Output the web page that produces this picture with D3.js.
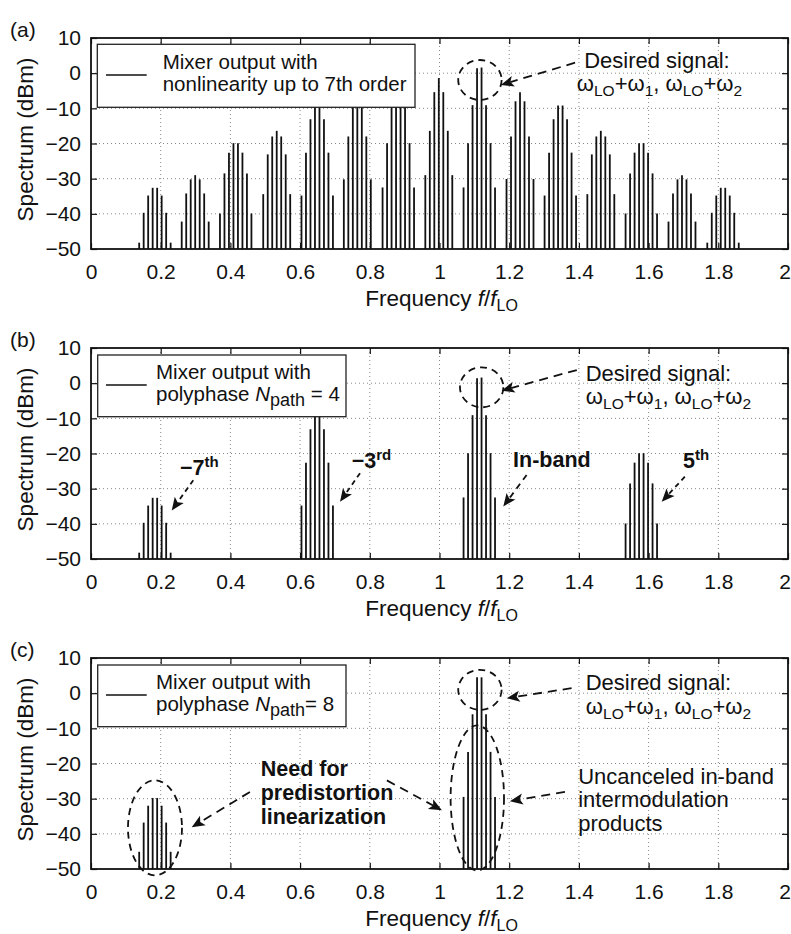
<!DOCTYPE html>
<html><head><meta charset="utf-8">
<script src="https://cdn.jsdelivr.net/npm/d3@7"></script>
<style>body{margin:0;background:#fff}</style>
</head><body>
<svg id="chart" width="791" height="934"></svg>
<script>
// ---------------- data ----------------
const xTicks = [0, 0.2, 0.4, 0.6, 0.8, 1, 1.2, 1.4, 1.6, 1.8, 2];
const xTickLabels = ["0", "0.2", "0.4", "0.6", "0.8", "1", "1.2", "1.4", "1.6", "1.8", "2"];
const yTicks = [10, 0, -10, -20, -30, -40, -50];
const yTickLabels = ["10", "0", "\u221210", "\u221220", "\u221230", "\u221240", "\u221250"];
const toneSpacing = 0.0129; // spacing of the tones inside a cluster (f/fLO)
const clusterCenters = [0.1834, 0.2990, 0.4152, 0.5329, 0.6491, 0.7642, 0.8818, 0.998,
                        1.1142, 1.231, 1.3467, 1.4629, 1.5791, 1.6958, 1.8135];
// panel (a): all 15 clusters (dBm)
const levelsA = [
  [-48.2, -39.7, -34.8, -32.6, -32.6, -34.8, -39.7, -48.2],
  [-42.2, -34.2, -30.2, -29.0, -30.2, -34.2, -42.2],
  [-39.9, -28.5, -22.6, -19.9, -19.9, -22.6, -28.5, -39.9],
  [-34.4, -23.1, -18.0, -16.4, -18.0, -23.1, -34.4],
  [-34.8, -22.6, -13.1, -9.2, -9.2, -13.1, -22.6, -34.8],
  [-30.2, -18.0, -8.0, -5.4, -8.0, -18.0, -30.2],
  [-32.5, -19.9, -9.1, 1.4, 1.4, -9.1, -19.9, -32.5],
  [-29.0, -16.4, -5.4, -1.4, -5.4, -16.4, -29.0],
  [-32.5, -19.9, -9.1, 1.4, 1.6, -9.1, -19.9, -32.5],
  [-30.1, -18.0, -8.0, -5.4, -8.0, -18.0, -30.1],
  [-34.8, -22.6, -13.1, -9.2, -9.2, -13.1, -22.6, -34.8],
  [-34.4, -23.1, -18.0, -16.4, -18.0, -23.1, -34.4],
  [-39.9, -28.5, -22.6, -19.9, -19.9, -22.6, -28.5, -39.9],
  [-42.2, -34.2, -30.2, -29.0, -30.2, -34.2, -42.2],
  [-48.2, -39.7, -34.8, -32.6, -32.6, -34.8, -39.7, -48.2]
];
// panel (b): N_path = 4, clusters -7th, -3rd, in-band, 5th
const clustersB = [0, 4, 8, 12];
const levelsB = [
  [-48.2, -39.7, -34.8, -32.6, -32.6, -34.8, -39.7, -48.2],
  [-34.8, -22.6, -13.1, -9.2, -9.2, -13.1, -22.6, -34.8],
  [-32.5, -19.9, -9.1, 1.4, 1.6, -9.1, -19.9, -32.5],
  [-39.9, -28.5, -22.6, -19.9, -19.9, -22.6, -28.5, -39.9]
];
// panel (c): N_path = 8, clusters -7th and in-band
const clustersC = [0, 8];
const levelsC = [
  [-45.1, -36.8, -32.0, -29.8, -29.8, -32.0, -36.8, -45.1],
  [-29.5, -16.7, -6.0, 4.5, 4.5, -6.0, -16.7, -29.5]
];

// ---------------- layout ----------------
const FONT = "Arial, 'Liberation Sans', Helvetica, sans-serif";
const FS = 20.5;      // legend text
const FS_ANN = 22;    // annotation text
const FS_TICK = 21;
const svg = d3.select("#chart").attr("font-family", FONT);
const plotLeft = 91, plotRight = 788, panelH = 211;
const panelTops = [38, 348, 658];
const x = d3.scaleLinear().domain([0, 2]).range([plotLeft, plotRight]);
const INK = "#111";

function arrow(g, x1, y1, x2, y2, dash) {
  const dx = x2 - x1, dy = y2 - y1, L = Math.hypot(dx, dy), ux = dx / L, uy = dy / L;
  const hl = 13, hw = 5.5, notch = 3;
  const bx = x2 - ux * hl, by = y2 - uy * hl;
  g.append("line").attr("x1", x1).attr("y1", y1).attr("x2", bx + ux * 3).attr("y2", by + uy * 3)
    .attr("stroke", INK).attr("stroke-width", 1.8).attr("stroke-dasharray", dash);
  const px = -uy, py = ux;
  g.append("path")
    .attr("d", `M${x2},${y2}L${bx + px * hw},${by + py * hw}L${bx + ux * notch},${by + uy * notch}L${bx - px * hw},${by - py * hw}Z`)
    .attr("fill", INK);
}
function ellipse(g, cx, cy, rx, ry) {
  g.append("ellipse").attr("cx", cx).attr("cy", cy).attr("rx", rx).attr("ry", ry)
    .attr("fill", "none").attr("stroke", INK).attr("stroke-width", 1.8).attr("stroke-dasharray", "7,5");
}
function omegaText(g, tx, ty) {
  const t = g.append("text").attr("x", tx).attr("y", ty).attr("font-size", FS_ANN).attr("fill", INK);
  const parts = [["\u03c9", 0, FS_ANN], ["LO", 5, 15.5], ["+\u03c9", -5, FS_ANN], ["1", 5, 15.5], [", \u03c9", -5, FS_ANN],
                 ["LO", 5, 15.5], ["+\u03c9", -5, FS_ANN], ["2", 5, 15.5]];
  parts.forEach(p => t.append("tspan").attr("dy", p[1]).attr("font-size", p[2]).text(p[0]));
}
function desired(g, y, ell, arr, txt) {
  ellipse(g, x(ell[0]), y(ell[1]), 21.7, 20);
  arrow(g, x(arr[0]), y(arr[1]), x(arr[2]), y(arr[3]), "9,6");
  g.append("text").attr("x", x(txt[0])).attr("y", y(txt[1])).attr("font-size", FS_ANN).attr("fill", INK).text("Desired signal:");
  omegaText(g, x(txt[2]), y(txt[3]));
}
function boldSup(g, tx, ty, main, sup) {
  const t = g.append("text").attr("x", tx).attr("y", ty).attr("font-size", 21.5).attr("font-weight", "bold").attr("fill", INK);
  t.append("tspan").text(main);
  if (sup) t.append("tspan").attr("dy", -8).attr("font-size", 15).text(sup);
}

function drawPanel(pi, idxs, levels) {
  const top = panelTops[pi], bottom = top + panelH;
  const y = d3.scaleLinear().domain([-50, 10]).range([bottom, top]);
  const g = svg.append("g");

  // grid
  g.append("g").selectAll("line").data(xTicks.slice(1, -1)).join("line")
    .attr("x1", d => x(d)).attr("x2", d => x(d)).attr("y1", top).attr("y2", bottom)
    .attr("stroke", "#888").attr("stroke-width", 1).attr("stroke-dasharray", "1,3");
  g.append("g").selectAll("line").data(yTicks.slice(1, -1)).join("line")
    .attr("y1", d => y(d)).attr("y2", d => y(d)).attr("x1", plotLeft).attr("x2", plotRight)
    .attr("stroke", "#888").attr("stroke-width", 1).attr("stroke-dasharray", "1,3");

  // bars
  const tones = [];
  idxs.forEach((ci, k) => {
    const lv = levels[k], n = lv.length;
    lv.forEach((v, i) => tones.push({ f: clusterCenters[ci] + (i - (n - 1) / 2) * toneSpacing, v }));
  });
  g.append("g").selectAll("line").data(tones).join("line")
    .attr("x1", d => x(d.f)).attr("x2", d => x(d.f)).attr("y1", y(-50)).attr("y2", d => y(d.v))
    .attr("stroke", INK).attr("stroke-width", 1.8);

  // axes
  const ax = d3.axisBottom(x).tickValues(xTicks).tickFormat((d, i) => xTickLabels[i])
    .tickSizeInner(-6).tickSizeOuter(0).tickPadding(15);
  const gx = g.append("g").attr("transform", `translate(0,${bottom})`).call(ax);
  const axT = d3.axisTop(x).tickValues(xTicks).tickFormat("").tickSizeInner(-6).tickSizeOuter(0);
  const gxt = g.append("g").attr("transform", `translate(0,${top})`).call(axT);
  const ay = d3.axisLeft(y).tickValues(yTicks).tickFormat((d, i) => yTickLabels[i])
    .tickSizeInner(-6).tickSizeOuter(0).tickPadding(10);
  const gy = g.append("g").attr("transform", `translate(${plotLeft},0)`).call(ay);
  const ayR = d3.axisRight(y).tickValues(yTicks).tickFormat("").tickSizeInner(-6).tickSizeOuter(0);
  const gyr = g.append("g").attr("transform", `translate(${plotRight},0)`).call(ayR);
  [gx, gxt, gy, gyr].forEach(a => {
    a.select(".domain").remove();
    a.selectAll(".tick line").attr("stroke", INK).attr("stroke-width", 1.2);
    a.selectAll("text").attr("font-size", FS_TICK).attr("font-family", FONT).attr("fill", INK);
  });
  gx.selectAll(".tick text").filter(d => d === 2).attr("dx", -3.5);

  // frame
  g.append("rect").attr("x", plotLeft).attr("y", top).attr("width", plotRight - plotLeft).attr("height", panelH)
    .attr("fill", "none").attr("stroke", INK).attr("stroke-width", 1.8);

  // labels
  g.append("text").attr("x", 10).attr("y", top - 1).attr("font-size", FS_TICK).attr("fill", INK).text(["(a)", "(b)", "(c)"][pi]);
  g.append("text").attr("transform", `translate(33,${top + panelH / 2 - 4}) rotate(-90)`)
    .attr("text-anchor", "middle").attr("font-size", 22.5).attr("fill", INK).text("Spectrum (dBm)");
  const xl = g.append("text").attr("x", (plotLeft + plotRight) / 2 + 2).attr("y", bottom + 57)
    .attr("text-anchor", "middle").attr("font-size", 22.5).attr("fill", INK);
  xl.append("tspan").text("Frequency ");
  xl.append("tspan").attr("font-style", "italic").text("f");
  xl.append("tspan").text("/");
  xl.append("tspan").attr("font-style", "italic").text("f");
  xl.append("tspan").attr("dy", 5).attr("font-size", 16).text("LO");

  // legend
  const wide = pi === 0;
  const lx = wide ? 97.3 : 97.7, lw = wide ? 317.7 : 248.3, ly = top + (wide ? 6.3 : 7), lh = wide ? 63 : 61.7;
  g.append("rect").attr("x", lx).attr("y", ly).attr("width", lw).attr("height", lh)
    .attr("fill", "#fff").attr("stroke", "#222").attr("stroke-width", 1.3);
  g.append("line").attr("x1", 106).attr("x2", 146.7).attr("y1", top + 37).attr("y2", top + 37)
    .attr("stroke", INK).attr("stroke-width", 1.5);
  const tx = wide ? 162.7 : 156;
  g.append("text").attr("x", tx).attr("y", top + 31.3).attr("font-size", FS).attr("fill", INK).text("Mixer output with");
  const l2 = g.append("text").attr("x", tx).attr("y", top + 53).attr("font-size", FS).attr("fill", INK);
  if (wide) l2.text("nonlinearity up to 7th order");
  else {
    l2.append("tspan").text("polyphase ");
    l2.append("tspan").attr("font-style", "italic").text("N");
    l2.append("tspan").attr("dy", 5).attr("font-size", 18).text("path");
    l2.append("tspan").attr("dy", -5).text(pi === 1 ? " = 4" : "= 8");
  }
  return { g, y };
}

// ---------------- panels ----------------
const idxA = clusterCenters.map((c, i) => i);
const pa = drawPanel(0, idxA, levelsA);
desired(pa.g, pa.y, [1.116, -1.94], [1.389, 2.98, 1.176, -3.36], [1.415, 1.38, 1.394, -5.1]);

const pb = drawPanel(1, clustersB, levelsB);
desired(pb.g, pb.y, [1.121, -1.17], [1.394, 3.74, 1.178, -2.14], [1.4195, 0.62, 1.42, -5.85]);
boldSup(pb.g, x(0.2554), pb.y(-26.2), "\u22127", "th");
arrow(pb.g, x(0.2935), pb.y(-27.6), x(0.2316), pb.y(-36.2), "5,4");
boldSup(pb.g, x(0.748), pb.y(-24.2), "\u22123", "rd");
arrow(pb.g, x(0.772), pb.y(-25.6), x(0.7145), pb.y(-33.7), "5,4");
boldSup(pb.g, x(1.211), pb.y(-23.75), "In-band", null);
arrow(pb.g, x(1.25), pb.y(-26.1), x(1.183), pb.y(-35.1), "6,5");
boldSup(pb.g, x(1.699), pb.y(-24.2), "5", "th");
arrow(pb.g, x(1.704), pb.y(-26.6), x(1.6376), pb.y(-33.7), "5,4");

const pc = drawPanel(2, clustersC, levelsC);
desired(pc.g, pc.y, [1.116, 0.94], [1.379, 1.43, 1.193, -1.43], [1.4195, 0.8, 1.42, -5.85]);
ellipse(pc.g, x(1.1085), pc.y(-29.8), 26.7, 72.5);
["Uncanceled in-band", "intermodulation", "products"].forEach((s, i) =>
  pc.g.append("text").attr("x", x(1.398)).attr("y", pc.y([-25.9, -32.5, -39.3][i])).attr("font-size", FS_ANN).attr("fill", INK).text(s));
arrow(pc.g, x(1.36), pc.y(-28.1), x(1.202), pc.y(-30.7), "9,6");
["Need for", "predistortion", "linearization"].forEach((s, i) =>
  pc.g.append("text").attr("x", x(0.487)).attr("y", pc.y([-23.5, -30.3, -37.1][i])).attr("font-size", 21.5)
    .attr("font-weight", "bold").attr("fill", INK).text(s));
ellipse(pc.g, x(0.1836), pc.y(-38.3), 27, 47.5);
arrow(pc.g, x(0.456), pc.y(-28.1), x(0.289), pc.y(-38.1), "9,6");
arrow(pc.g, x(0.849), pc.y(-24.8), x(1.007), pc.y(-33.3), "9,6");
</script>
</body></html>
